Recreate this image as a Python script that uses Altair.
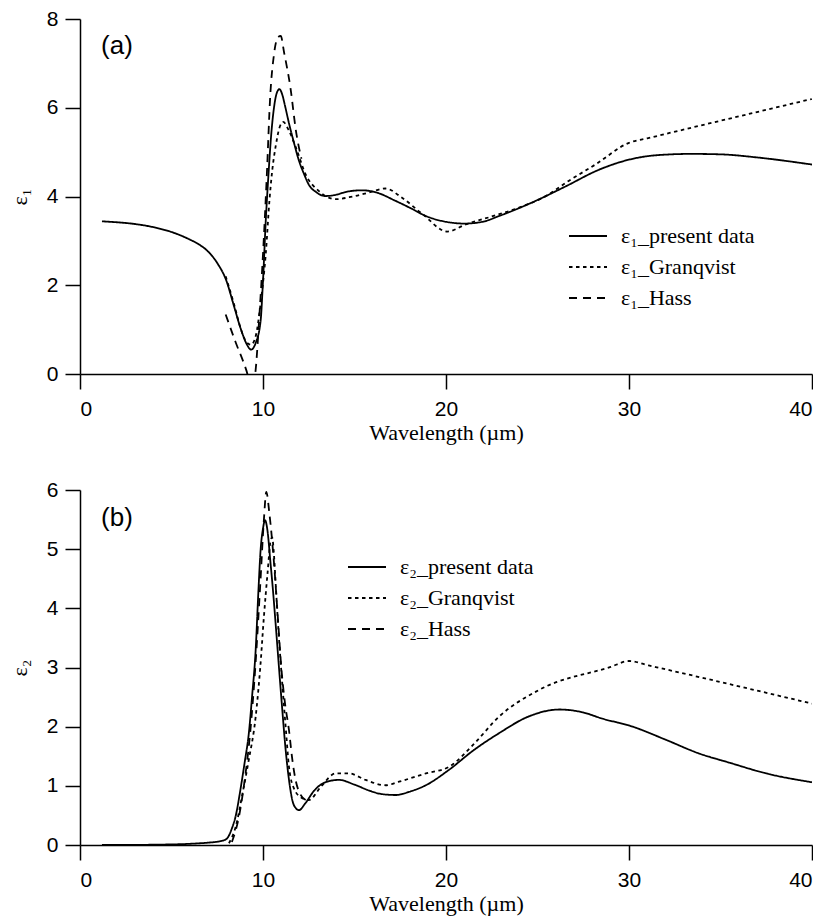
import altair as alt
import pandas as pd

# ---------------- data: panel (a) epsilon_1 ----------------
e1_present_x = [1.2, 2, 3, 4, 5, 6, 6.5, 7, 7.5, 8, 8.4, 8.8, 9.1, 9.35, 9.6, 9.87, 10.0, 10.15,
                10.3, 10.45, 10.6, 10.75, 10.9, 11.05, 11.2, 11.42, 11.7, 11.97, 12.25, 12.5, 12.9,
                13.4, 14.0, 14.5, 15.4, 16.2, 17.25, 18.1, 18.9, 20.0, 21.0, 22.0, 22.9, 24.0, 25.1,
                26.5, 28.4, 30, 31.5, 33.4, 35, 37, 40]
e1_present_y = [3.44, 3.42, 3.38, 3.31, 3.2, 3.03, 2.92, 2.76, 2.5, 2.1, 1.55, 1.0, 0.68, 0.55, 0.7,
                1.2, 2.1, 3.45, 4.5, 5.4, 6.0, 6.33, 6.42, 6.3, 6.05, 5.65, 5.2, 4.8, 4.5, 4.27, 4.1,
                4.01, 4.04, 4.1, 4.14, 4.09, 3.9, 3.73, 3.56, 3.43, 3.39, 3.43, 3.56, 3.74, 3.94,
                4.22, 4.61, 4.83, 4.93, 4.96, 4.95, 4.88, 4.72]

e1_granqvist_x = [7.96, 8.4, 8.8, 9.1, 9.35, 9.6, 9.9, 10.15, 10.35, 10.5, 10.7, 10.9, 11.1, 11.4,
                  11.8, 12.33, 13.06, 13.97, 14.9, 15.8, 16.7, 17.6, 18.7, 20.07, 21.08, 22.5, 24,
                  25.5, 26.7, 28.2, 30, 31, 40]
e1_granqvist_y = [2.2, 1.6, 1.0, 0.72, 0.66, 0.85, 1.7, 2.7, 3.9, 4.57, 5.15, 5.55, 5.68, 5.5,
                  5.1, 4.5, 4.12, 3.94, 4.0, 4.09, 4.18, 3.97, 3.61, 3.21, 3.37, 3.55, 3.75,
                  4.02, 4.35, 4.73, 5.21, 5.31, 6.2]

e1_hass_x = [7.96, 8.5, 9.1, 9.4, 9.6, 9.8, 10.0, 10.2, 10.4, 10.6, 10.8, 10.97, 11.15, 11.5, 11.8, 12.1]
e1_hass_y = [1.34, 0.72, 0.07, -0.35, 0.1, 1.3, 2.7, 4.4, 6.3, 7.2, 7.58, 7.62, 7.25, 6.45, 5.48, 4.85]

# ---------------- data: panel (b) epsilon_2 ----------------
e2_present_x = [1.2, 2, 4, 6, 7, 7.6, 8.0, 8.3, 8.5, 8.8, 9.0, 9.23, 9.4, 9.6, 9.75, 9.87, 10.0,
                10.11, 10.25, 10.4, 10.51, 10.7, 10.87, 11.05, 11.24, 11.4, 11.6, 11.8, 11.97,
                12.3, 12.8, 13.4, 14.15, 15.0, 15.8, 16.5, 17.25, 18.0, 18.9, 20.16, 21.5, 22.9,
                24.5, 26.2, 27.5, 28.5, 30.2, 32, 33.8, 35.5, 37.5, 40]
e2_present_y = [0.0, 0.0, 0.005, 0.02, 0.04, 0.06, 0.1, 0.28, 0.48, 1.0, 1.4, 1.9, 2.5, 3.3, 4.3,
                4.99, 5.35, 5.49, 5.3, 4.8, 4.43, 3.7, 3.01, 2.3, 1.6, 1.15, 0.76, 0.62, 0.59,
                0.7, 0.92, 1.06, 1.1, 1.02, 0.92, 0.86, 0.845, 0.9, 1.01, 1.27, 1.6, 1.89,
                2.17, 2.29, 2.24, 2.14, 2.0, 1.78, 1.55, 1.39, 1.21, 1.06]

e2_granqvist_x = [8.14, 8.5, 8.9, 9.2, 9.6, 9.85, 10.05, 10.25, 10.42, 10.5, 10.6, 10.69, 10.85,
                  11.05, 11.25, 11.42, 11.7, 12.1, 12.5, 13.2, 13.97, 14.7, 15.6, 16.7, 17.43,
                  18.9, 20.16, 21.5, 22.9, 25.08, 29, 30, 31, 40]
e2_granqvist_y = [0.03, 0.3, 0.9, 1.4, 2.17, 3.0, 3.86, 4.6, 5.15, 5.2, 4.9, 4.43, 3.6,
                  2.74, 1.95, 1.32, 0.95, 0.8, 0.76, 1.0, 1.21, 1.21, 1.1, 1.01, 1.07,
                  1.21, 1.32, 1.7, 2.17, 2.62, 3.01, 3.11, 3.04, 2.39]

e2_hass_x = [8.3, 8.7, 9.0, 9.3, 9.6, 9.85, 10.05, 10.18, 10.35, 10.6, 10.8, 11.0, 11.2, 11.42,
             11.6, 11.78, 12.05, 12.33]
e2_hass_y = [0.05, 0.5, 1.1, 1.9, 3.1, 4.4, 5.5, 5.97, 5.6, 4.77, 3.9, 3.0, 2.4, 1.94,
             1.45, 1.1, 0.85, 0.76]

# ---------------- labels / ticks ----------------
x_ticks = [0, 10, 20, 30, 40]
y1_ticks = [0, 2, 4, 6, 8]
y2_ticks = [0, 1, 2, 3, 4, 5, 6]
names1 = ["ε₁_present data", "ε₁_Granqvist", "ε₁_Hass"]
names2 = ["ε₂_present data", "ε₂_Granqvist", "ε₂_Hass"]
dash_patterns = [[1, 0], [3.5, 3.5], [8, 6]]


def long_df(names, xs_list, ys_list):
    rows = []
    for n, xs, ys in zip(names, xs_list, ys_list):
        for i, (xv, yv) in enumerate(zip(xs, ys)):
            rows.append({"series": n, "x": xv, "y": yv, "i": i})
    return pd.DataFrame(rows)


df1 = long_df(names1, [e1_present_x, e1_granqvist_x, e1_hass_x], [e1_present_y, e1_granqvist_y, e1_hass_y])
df2 = long_df(names2, [e2_present_x, e2_granqvist_x, e2_hass_x], [e2_present_y, e2_granqvist_y, e2_hass_y])


def panel(df, names, ymax, yticks, ytitle, label, label_x, label_y, legend_x, legend_y):
    x = alt.X("x:Q", scale=alt.Scale(domain=[0, 40], nice=False, zero=False),
              axis=alt.Axis(values=x_ticks, title="Wavelength (µm)"))
    y = alt.Y("y:Q", scale=alt.Scale(domain=[0, ymax], nice=False),
              axis=alt.Axis(values=yticks, title=ytitle))
    lines = alt.Chart(df).mark_line(color="black", strokeWidth=1.8, clip=True,
                                    interpolate="monotone").encode(
        x=x, y=y,
        strokeDash=alt.StrokeDash(
            "series:N",
            scale=alt.Scale(domain=names, range=dash_patterns),
            legend=alt.Legend(title=None, orient="none", legendX=legend_x, legendY=legend_y,
                              symbolType="stroke", symbolSize=1444, symbolStrokeWidth=2,
                              symbolStrokeColor="black", labelFont="Liberation Serif",
                              labelFontSize=22, labelColor="black", labelOffset=13,
                              rowPadding=-8.5, padding=0, labelLimit=400),
        ),
        order="i:Q",
    )
    lab_df = pd.DataFrame({"x": [label_x], "y": [label_y], "t": [label]})
    lab = alt.Chart(lab_df).mark_text(align="left", baseline="middle", font="Liberation Sans",
                                      fontSize=26, color="black").encode(x=x, y=y, text="t:N")
    return alt.layer(lines, lab).properties(width=732, height=355)


top = panel(df1, names1, 8, y1_ticks, "ε₁", "(a)", 1.15, 7.39, 488, 197)
bottom = panel(df2, names2, 6, y2_ticks, "ε₂", "(b)", 1.15, 5.53, 267, 57)

chart = alt.vconcat(top, bottom, spacing=36).resolve_scale(strokeDash="independent").resolve_legend(
    strokeDash="independent"
).properties(padding={"left": 0, "top": 0, "right": 0, "bottom": 3}).configure_view(
    stroke=None
).configure_axis(
    domainColor="black", domainWidth=1.5, tickColor="black", tickWidth=1.5, tickSize=15,
    labelFont="Liberation Sans", labelFontSize=21, labelColor="black", labelPadding=7,
    titleFont="Liberation Serif", titleFontSize=22, titleFontWeight="normal", titleColor="black",
    grid=False,
).configure_axisX(labelPadding=9, titlePadding=3).configure_axisY(titlePadding=15)

chart.save("out.html", embed_options={"renderer": "svg", "actions": False})
